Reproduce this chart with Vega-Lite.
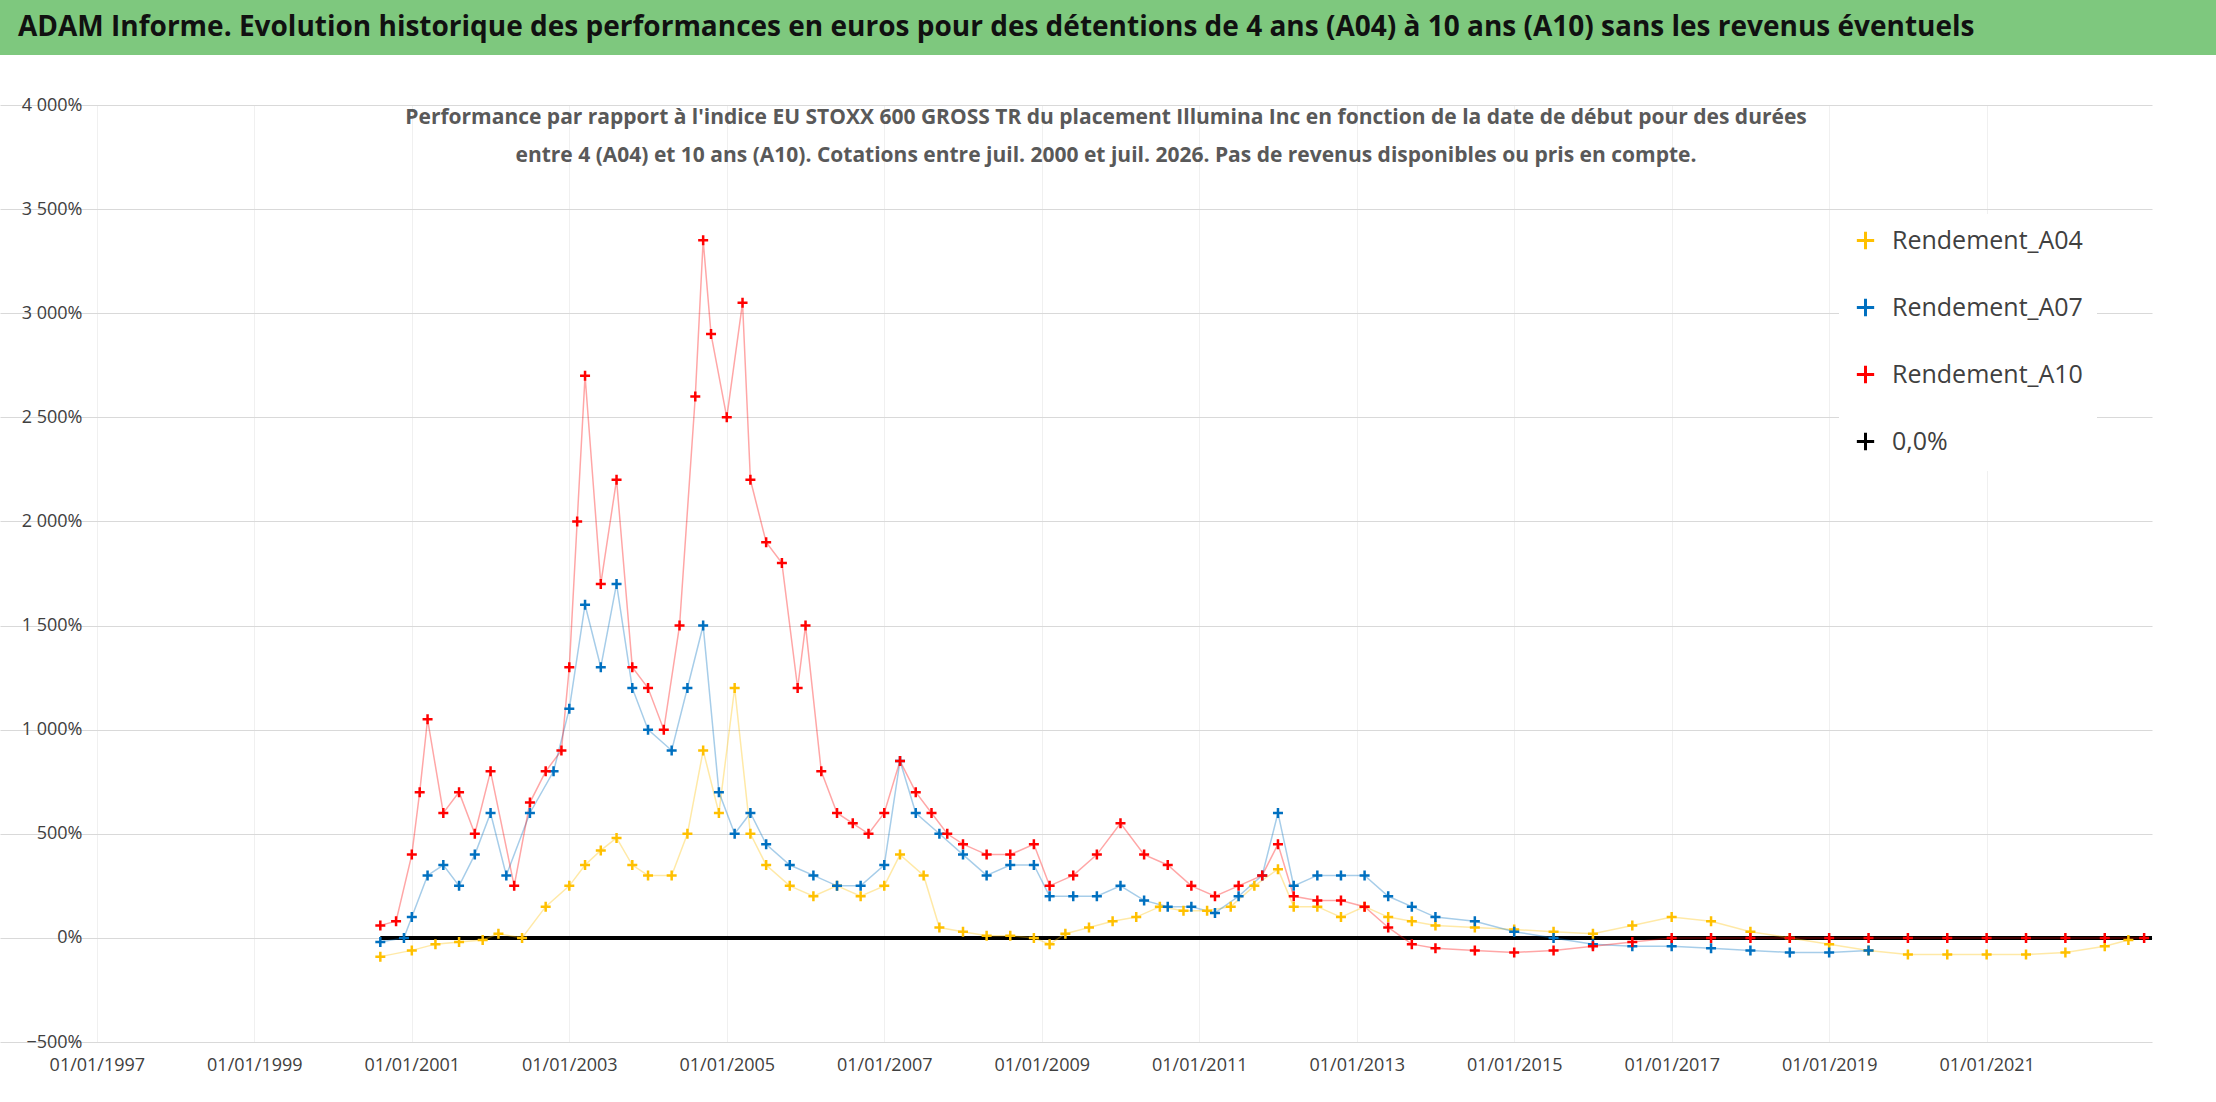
{
"$schema":"https://vega.github.io/schema/vega-lite/v6.json",
"background":"white",
"padding":0,
"spacing":50,
"bounds":"flush",
"config":{"view":{"stroke":null},"font":"Open Sans"},
"datasets":{
"bar":[{"txt":"ADAM Informe. Evolution historique des performances en euros pour des détentions de 4 ans (A04) à 10 ans (A10) sans les revenus éventuels"}],
"zero":[{"t":2000.6,"v":0},{"t":2023.1,"v":0}],
"pts":[
{"s":"Rendement_A04","t":2000.6,"v":-90},{"s":"Rendement_A04","t":2001.0,"v":-60},{"s":"Rendement_A04","t":2001.3,"v":-30},{"s":"Rendement_A04","t":2001.6,"v":-20},{"s":"Rendement_A04","t":2001.9,"v":-10},{"s":"Rendement_A04","t":2002.1,"v":20},{"s":"Rendement_A04","t":2002.4,"v":0},{"s":"Rendement_A04","t":2002.7,"v":150},{"s":"Rendement_A04","t":2003.0,"v":250},{"s":"Rendement_A04","t":2003.2,"v":350},{"s":"Rendement_A04","t":2003.4,"v":420},{"s":"Rendement_A04","t":2003.6,"v":480},{"s":"Rendement_A04","t":2003.8,"v":350},{"s":"Rendement_A04","t":2004.0,"v":300},{"s":"Rendement_A04","t":2004.3,"v":300},{"s":"Rendement_A04","t":2004.5,"v":500},{"s":"Rendement_A04","t":2004.7,"v":900},{"s":"Rendement_A04","t":2004.9,"v":600},{"s":"Rendement_A04","t":2005.1,"v":1200},{"s":"Rendement_A04","t":2005.3,"v":500},{"s":"Rendement_A04","t":2005.5,"v":350},{"s":"Rendement_A04","t":2005.8,"v":250},{"s":"Rendement_A04","t":2006.1,"v":200},{"s":"Rendement_A04","t":2006.4,"v":250},{"s":"Rendement_A04","t":2006.7,"v":200},{"s":"Rendement_A04","t":2007.0,"v":250},{"s":"Rendement_A04","t":2007.2,"v":400},{"s":"Rendement_A04","t":2007.5,"v":300},{"s":"Rendement_A04","t":2007.7,"v":50},{"s":"Rendement_A04","t":2008.0,"v":30},{"s":"Rendement_A04","t":2008.3,"v":10},{"s":"Rendement_A04","t":2008.6,"v":10},{"s":"Rendement_A04","t":2008.9,"v":0},{"s":"Rendement_A04","t":2009.1,"v":-30},{"s":"Rendement_A04","t":2009.3,"v":20},{"s":"Rendement_A04","t":2009.6,"v":50},{"s":"Rendement_A04","t":2009.9,"v":80},{"s":"Rendement_A04","t":2010.2,"v":100},{"s":"Rendement_A04","t":2010.5,"v":150},{"s":"Rendement_A04","t":2010.8,"v":130},{"s":"Rendement_A04","t":2011.1,"v":130},{"s":"Rendement_A04","t":2011.4,"v":150},{"s":"Rendement_A04","t":2011.7,"v":250},{"s":"Rendement_A04","t":2012.0,"v":330},{"s":"Rendement_A04","t":2012.2,"v":150},{"s":"Rendement_A04","t":2012.5,"v":150},{"s":"Rendement_A04","t":2012.8,"v":100},{"s":"Rendement_A04","t":2013.1,"v":150},{"s":"Rendement_A04","t":2013.4,"v":100},{"s":"Rendement_A04","t":2013.7,"v":80},{"s":"Rendement_A04","t":2014.0,"v":60},{"s":"Rendement_A04","t":2014.5,"v":50},{"s":"Rendement_A04","t":2015.0,"v":40},{"s":"Rendement_A04","t":2015.5,"v":30},{"s":"Rendement_A04","t":2016.0,"v":20},{"s":"Rendement_A04","t":2016.5,"v":60},{"s":"Rendement_A04","t":2017.0,"v":100},{"s":"Rendement_A04","t":2017.5,"v":80},{"s":"Rendement_A04","t":2018.0,"v":30},{"s":"Rendement_A04","t":2018.5,"v":0},{"s":"Rendement_A04","t":2019.0,"v":-30},{"s":"Rendement_A04","t":2019.5,"v":-60},{"s":"Rendement_A04","t":2020.0,"v":-80},{"s":"Rendement_A04","t":2020.5,"v":-80},{"s":"Rendement_A04","t":2021.0,"v":-80},{"s":"Rendement_A04","t":2021.5,"v":-80},{"s":"Rendement_A04","t":2022.0,"v":-70},{"s":"Rendement_A04","t":2022.5,"v":-40},{"s":"Rendement_A04","t":2022.8,"v":-10},
{"s":"Rendement_A07","t":2000.6,"v":-20},{"s":"Rendement_A07","t":2000.9,"v":0},{"s":"Rendement_A07","t":2001.0,"v":100},{"s":"Rendement_A07","t":2001.2,"v":300},{"s":"Rendement_A07","t":2001.4,"v":350},{"s":"Rendement_A07","t":2001.6,"v":250},{"s":"Rendement_A07","t":2001.8,"v":400},{"s":"Rendement_A07","t":2002.0,"v":600},{"s":"Rendement_A07","t":2002.2,"v":300},{"s":"Rendement_A07","t":2002.5,"v":600},{"s":"Rendement_A07","t":2002.8,"v":800},{"s":"Rendement_A07","t":2003.0,"v":1100},{"s":"Rendement_A07","t":2003.2,"v":1600},{"s":"Rendement_A07","t":2003.4,"v":1300},{"s":"Rendement_A07","t":2003.6,"v":1700},{"s":"Rendement_A07","t":2003.8,"v":1200},{"s":"Rendement_A07","t":2004.0,"v":1000},{"s":"Rendement_A07","t":2004.3,"v":900},{"s":"Rendement_A07","t":2004.5,"v":1200},{"s":"Rendement_A07","t":2004.7,"v":1500},{"s":"Rendement_A07","t":2004.9,"v":700},{"s":"Rendement_A07","t":2005.1,"v":500},{"s":"Rendement_A07","t":2005.3,"v":600},{"s":"Rendement_A07","t":2005.5,"v":450},{"s":"Rendement_A07","t":2005.8,"v":350},{"s":"Rendement_A07","t":2006.1,"v":300},{"s":"Rendement_A07","t":2006.4,"v":250},{"s":"Rendement_A07","t":2006.7,"v":250},{"s":"Rendement_A07","t":2007.0,"v":350},{"s":"Rendement_A07","t":2007.2,"v":850},{"s":"Rendement_A07","t":2007.4,"v":600},{"s":"Rendement_A07","t":2007.7,"v":500},{"s":"Rendement_A07","t":2008.0,"v":400},{"s":"Rendement_A07","t":2008.3,"v":300},{"s":"Rendement_A07","t":2008.6,"v":350},{"s":"Rendement_A07","t":2008.9,"v":350},{"s":"Rendement_A07","t":2009.1,"v":200},{"s":"Rendement_A07","t":2009.4,"v":200},{"s":"Rendement_A07","t":2009.7,"v":200},{"s":"Rendement_A07","t":2010.0,"v":250},{"s":"Rendement_A07","t":2010.3,"v":180},{"s":"Rendement_A07","t":2010.6,"v":150},{"s":"Rendement_A07","t":2010.9,"v":150},{"s":"Rendement_A07","t":2011.2,"v":120},{"s":"Rendement_A07","t":2011.5,"v":200},{"s":"Rendement_A07","t":2011.8,"v":300},{"s":"Rendement_A07","t":2012.0,"v":600},{"s":"Rendement_A07","t":2012.2,"v":250},{"s":"Rendement_A07","t":2012.5,"v":300},{"s":"Rendement_A07","t":2012.8,"v":300},{"s":"Rendement_A07","t":2013.1,"v":300},{"s":"Rendement_A07","t":2013.4,"v":200},{"s":"Rendement_A07","t":2013.7,"v":150},{"s":"Rendement_A07","t":2014.0,"v":100},{"s":"Rendement_A07","t":2014.5,"v":80},{"s":"Rendement_A07","t":2015.0,"v":30},{"s":"Rendement_A07","t":2015.5,"v":0},{"s":"Rendement_A07","t":2016.0,"v":-30},{"s":"Rendement_A07","t":2016.5,"v":-40},{"s":"Rendement_A07","t":2017.0,"v":-40},{"s":"Rendement_A07","t":2017.5,"v":-50},{"s":"Rendement_A07","t":2018.0,"v":-60},{"s":"Rendement_A07","t":2018.5,"v":-70},{"s":"Rendement_A07","t":2019.0,"v":-70},{"s":"Rendement_A07","t":2019.5,"v":-60},
{"s":"Rendement_A10","t":2000.6,"v":60},{"s":"Rendement_A10","t":2000.8,"v":80},{"s":"Rendement_A10","t":2001.0,"v":400},{"s":"Rendement_A10","t":2001.1,"v":700},{"s":"Rendement_A10","t":2001.2,"v":1050},{"s":"Rendement_A10","t":2001.4,"v":600},{"s":"Rendement_A10","t":2001.6,"v":700},{"s":"Rendement_A10","t":2001.8,"v":500},{"s":"Rendement_A10","t":2002.0,"v":800},{"s":"Rendement_A10","t":2002.3,"v":250},{"s":"Rendement_A10","t":2002.5,"v":650},{"s":"Rendement_A10","t":2002.7,"v":800},{"s":"Rendement_A10","t":2002.9,"v":900},{"s":"Rendement_A10","t":2003.0,"v":1300},{"s":"Rendement_A10","t":2003.1,"v":2000},{"s":"Rendement_A10","t":2003.2,"v":2700},{"s":"Rendement_A10","t":2003.4,"v":1700},{"s":"Rendement_A10","t":2003.6,"v":2200},{"s":"Rendement_A10","t":2003.8,"v":1300},{"s":"Rendement_A10","t":2004.0,"v":1200},{"s":"Rendement_A10","t":2004.2,"v":1000},{"s":"Rendement_A10","t":2004.4,"v":1500},{"s":"Rendement_A10","t":2004.6,"v":2600},{"s":"Rendement_A10","t":2004.7,"v":3350},{"s":"Rendement_A10","t":2004.8,"v":2900},{"s":"Rendement_A10","t":2005.0,"v":2500},{"s":"Rendement_A10","t":2005.2,"v":3050},{"s":"Rendement_A10","t":2005.3,"v":2200},{"s":"Rendement_A10","t":2005.5,"v":1900},{"s":"Rendement_A10","t":2005.7,"v":1800},{"s":"Rendement_A10","t":2005.9,"v":1200},{"s":"Rendement_A10","t":2006.0,"v":1500},{"s":"Rendement_A10","t":2006.2,"v":800},{"s":"Rendement_A10","t":2006.4,"v":600},{"s":"Rendement_A10","t":2006.6,"v":550},{"s":"Rendement_A10","t":2006.8,"v":500},{"s":"Rendement_A10","t":2007.0,"v":600},{"s":"Rendement_A10","t":2007.2,"v":850},{"s":"Rendement_A10","t":2007.4,"v":700},{"s":"Rendement_A10","t":2007.6,"v":600},{"s":"Rendement_A10","t":2007.8,"v":500},{"s":"Rendement_A10","t":2008.0,"v":450},{"s":"Rendement_A10","t":2008.3,"v":400},{"s":"Rendement_A10","t":2008.6,"v":400},{"s":"Rendement_A10","t":2008.9,"v":450},{"s":"Rendement_A10","t":2009.1,"v":250},{"s":"Rendement_A10","t":2009.4,"v":300},{"s":"Rendement_A10","t":2009.7,"v":400},{"s":"Rendement_A10","t":2010.0,"v":550},{"s":"Rendement_A10","t":2010.3,"v":400},{"s":"Rendement_A10","t":2010.6,"v":350},{"s":"Rendement_A10","t":2010.9,"v":250},{"s":"Rendement_A10","t":2011.2,"v":200},{"s":"Rendement_A10","t":2011.5,"v":250},{"s":"Rendement_A10","t":2011.8,"v":300},{"s":"Rendement_A10","t":2012.0,"v":450},{"s":"Rendement_A10","t":2012.2,"v":200},{"s":"Rendement_A10","t":2012.5,"v":180},{"s":"Rendement_A10","t":2012.8,"v":180},{"s":"Rendement_A10","t":2013.1,"v":150},{"s":"Rendement_A10","t":2013.4,"v":50},{"s":"Rendement_A10","t":2013.7,"v":-30},{"s":"Rendement_A10","t":2014.0,"v":-50},{"s":"Rendement_A10","t":2014.5,"v":-60},{"s":"Rendement_A10","t":2015.0,"v":-70},{"s":"Rendement_A10","t":2015.5,"v":-60},{"s":"Rendement_A10","t":2016.0,"v":-40},{"s":"Rendement_A10","t":2016.5,"v":-20},{"s":"Rendement_A10","t":2017.0,"v":0},{"s":"Rendement_A10","t":2017.5,"v":0},{"s":"Rendement_A10","t":2018.0,"v":0},{"s":"Rendement_A10","t":2018.5,"v":0},{"s":"Rendement_A10","t":2019.0,"v":0},{"s":"Rendement_A10","t":2019.5,"v":0},{"s":"Rendement_A10","t":2020.0,"v":0},{"s":"Rendement_A10","t":2020.5,"v":0},{"s":"Rendement_A10","t":2021.0,"v":0},{"s":"Rendement_A10","t":2021.5,"v":0},{"s":"Rendement_A10","t":2022.0,"v":0},{"s":"Rendement_A10","t":2022.5,"v":0},{"s":"Rendement_A10","t":2023.0,"v":0}
]},
"vconcat":[
{"width":2216,"height":55,"view":{"fill":"#7EC87E","stroke":null},
 "data":{"name":"bar"},
 "mark":{"type":"text","font":"Open Sans","fontWeight":"bold","fontSize":28,"color":"#111111","align":"left","baseline":"middle","x":18,"y":28},
 "encoding":{"text":{"field":"txt"}}},
{"width":2152,"height":937,
 "title":{"text":["Performance par rapport à l'indice EU STOXX 600 GROSS TR  du placement Illumina Inc en fonction de la date de début pour des durées","entre 4 (A04) et 10 ans (A10). Cotations entre juil. 2000 et juil. 2026. Pas de revenus disponibles ou pris en compte."],"fontSize":21,"font":"Open Sans","fontWeight":"bold","color":"#595959","lineHeight":38,"offset":-70,"dx":30},
 "layer":[
  {"data":{"name":"zero"},"mark":{"type":"line","color":"black","strokeWidth":4},
   "encoding":{"x":{"field":"t","type":"quantitative"},"y":{"field":"v","type":"quantitative"}}},
  {"data":{"name":"pts"},"mark":{"type":"line","strokeWidth":1.5,"opacity":0.35},
   "encoding":{"x":{"field":"t","type":"quantitative"},"y":{"field":"v","type":"quantitative"},
    "color":{"field":"s","type":"nominal","legend":null,"scale":{"domain":["Rendement_A04","Rendement_A07","Rendement_A10"],"range":["#FFC000","#0070C0","#FF0000"]}}}},
  {"data":{"name":"pts"},"mark":{"type":"point","filled":false,"strokeWidth":2.5,"size":100,"opacity":1,"shape":"M-1,0H1M0,-1V1"},
   "encoding":{
    "x":{"field":"t","type":"quantitative","scale":{"domain":[1995.77,2023.1],"nice":false,"zero":false},
      "axis":{"title":null,"values":[1997,1999,2001,2003,2005,2007,2009,2011,2013,2015,2017,2019,2021],"labelExpr":"'01/01/' + datum.value","labelFontSize":18,"labelColor":"#404040","labelFont":"Open Sans","grid":true,"gridColor":"#f0f0f0","domain":false,"ticks":false,"labelPadding":14}},
    "y":{"field":"v","type":"quantitative","scale":{"domain":[-500,4000],"nice":false},
      "axis":{"title":null,"values":[-500,0,500,1000,1500,2000,2500,3000,3500,4000],"labelExpr":"replace(format(datum.value, ',.0f'), ',', ' ') + '%'","labelFontSize":18,"labelColor":"#404040","labelFont":"Open Sans","gridColor":"#d9d9d9","domain":false,"ticks":false,"offset":-92,"labelPadding":10,"minExtent":0,"maxExtent":0}},
    "color":{"field":"s","type":"nominal","scale":{"domain":["Rendement_A04","Rendement_A07","Rendement_A10","0,0%"],"range":["#FFC000","#0070C0","#FF0000","#000000"]},
      "legend":{"title":null,"orient":"none","legendX":1839,"legendY":109,"labelFontSize":25,"labelFont":"Open Sans","labelColor":"#404040","labelLimit":500,"rowPadding":36,"fillColor":"white","padding":14,"symbolStrokeWidth":3,"symbolSize":300,"labelOffset":14,
        "encode":{"symbols":{"update":{"shape":{"signal":"datum.value === '0,0%' ? 'M-1,0H1' : 'M-0.6,0H0.6M0,-0.6V0.6'"},"strokeWidth":{"signal":"datum.value === '0,0%' ? 5 : 3"}}}}}}
   }}
 ],
 "resolve":{"scale":{"color":"independent"}}
}]
}
